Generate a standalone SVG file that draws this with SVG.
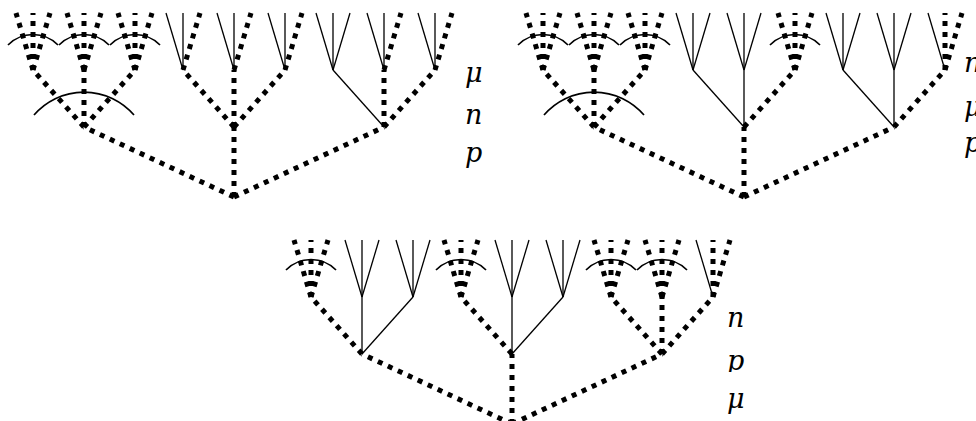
<svg xmlns="http://www.w3.org/2000/svg" width="976" height="421" viewBox="0 0 976 421">
<style>
.d{stroke:#000;stroke-width:5;stroke-dasharray:5 6;fill:none}
.t{stroke:#000;stroke-width:1.3;fill:none}
.a{stroke:#000;stroke-width:1.7;fill:none}
.lb{font-family:"DejaVu Serif","Liberation Serif",serif;font-style:italic;font-size:27px;fill:#000}
</style>
<defs>
<clipPath id="clipP"><rect x="700" y="340" width="80" height="32"/></clipPath>
</defs>
<rect width="976" height="421" fill="#fff"/>
<g id="connectors">
<g id="tree1">
<line class="d" x1="234" y1="197" x2="84" y2="127"/>
<line class="d" x1="234" y1="197" x2="234" y2="127"/>
<line class="d" x1="234" y1="197" x2="384" y2="127"/>
<line class="d" x1="84" y1="127" x2="33" y2="70"/>
<line class="d" x1="84" y1="127" x2="84" y2="70"/>
<line class="d" x1="84" y1="127" x2="135" y2="70"/>
<line class="d" x1="33" y1="70" x2="16" y2="13"/>
<line class="d" x1="33" y1="70" x2="33" y2="13"/>
<line class="d" x1="33" y1="70" x2="50" y2="13"/>
<line class="d" x1="84" y1="70" x2="67" y2="13"/>
<line class="d" x1="84" y1="70" x2="84" y2="13"/>
<line class="d" x1="84" y1="70" x2="101" y2="13"/>
<line class="d" x1="135" y1="70" x2="118" y2="13"/>
<line class="d" x1="135" y1="70" x2="135" y2="13"/>
<line class="d" x1="135" y1="70" x2="152" y2="13"/>
<line class="d" x1="234" y1="127" x2="183" y2="70"/>
<line class="d" x1="234" y1="127" x2="234" y2="70"/>
<line class="d" x1="234" y1="127" x2="285" y2="70"/>
<line class="t" x1="183" y1="70" x2="166" y2="13"/>
<line class="t" x1="183" y1="70" x2="183" y2="13"/>
<line class="d" x1="183" y1="70" x2="200" y2="13"/>
<line class="t" x1="234" y1="70" x2="217" y2="13"/>
<line class="t" x1="234" y1="70" x2="234" y2="13"/>
<line class="d" x1="234" y1="70" x2="251" y2="13"/>
<line class="t" x1="285" y1="70" x2="268" y2="13"/>
<line class="t" x1="285" y1="70" x2="285" y2="13"/>
<line class="d" x1="285" y1="70" x2="302" y2="13"/>
<line class="t" x1="384" y1="127" x2="333" y2="70"/>
<line class="d" x1="384" y1="127" x2="384" y2="70"/>
<line class="d" x1="384" y1="127" x2="435" y2="70"/>
<line class="t" x1="333" y1="70" x2="316" y2="13"/>
<line class="t" x1="333" y1="70" x2="333" y2="13"/>
<line class="t" x1="333" y1="70" x2="350" y2="13"/>
<line class="t" x1="384" y1="70" x2="367" y2="13"/>
<line class="t" x1="384" y1="70" x2="384" y2="13"/>
<line class="d" x1="384" y1="70" x2="401" y2="13"/>
<line class="t" x1="435" y1="70" x2="418" y2="13"/>
<line class="t" x1="435" y1="70" x2="435" y2="13"/>
<line class="d" x1="435" y1="70" x2="452" y2="13"/>
<path class="a" d="M34 115A66 66 0 0 1 134 115"/>
<path class="a" d="M8 45A35 35 0 0 1 58 45"/>
<path class="a" d="M59 45A35 35 0 0 1 109 45"/>
<path class="a" d="M110 45A35 35 0 0 1 160 45"/>
</g>
<g id="tree2">
<line class="d" x1="744" y1="197" x2="594" y2="127"/>
<line class="d" x1="744" y1="197" x2="744" y2="127"/>
<line class="d" x1="744" y1="197" x2="894" y2="127"/>
<line class="d" x1="594" y1="127" x2="543" y2="70"/>
<line class="d" x1="594" y1="127" x2="594" y2="70"/>
<line class="d" x1="594" y1="127" x2="645" y2="70"/>
<line class="d" x1="543" y1="70" x2="526" y2="13"/>
<line class="d" x1="543" y1="70" x2="543" y2="13"/>
<line class="d" x1="543" y1="70" x2="560" y2="13"/>
<line class="d" x1="594" y1="70" x2="577" y2="13"/>
<line class="d" x1="594" y1="70" x2="594" y2="13"/>
<line class="d" x1="594" y1="70" x2="611" y2="13"/>
<line class="d" x1="645" y1="70" x2="628" y2="13"/>
<line class="d" x1="645" y1="70" x2="645" y2="13"/>
<line class="d" x1="645" y1="70" x2="662" y2="13"/>
<line class="t" x1="744" y1="127" x2="693" y2="70"/>
<line class="t" x1="744" y1="127" x2="744" y2="70"/>
<line class="d" x1="744" y1="127" x2="795" y2="70"/>
<line class="t" x1="693" y1="70" x2="676" y2="13"/>
<line class="t" x1="693" y1="70" x2="693" y2="13"/>
<line class="t" x1="693" y1="70" x2="710" y2="13"/>
<line class="t" x1="744" y1="70" x2="727" y2="13"/>
<line class="t" x1="744" y1="70" x2="744" y2="13"/>
<line class="t" x1="744" y1="70" x2="761" y2="13"/>
<line class="d" x1="795" y1="70" x2="778" y2="13"/>
<line class="d" x1="795" y1="70" x2="795" y2="13"/>
<line class="d" x1="795" y1="70" x2="812" y2="13"/>
<line class="t" x1="894" y1="127" x2="843" y2="70"/>
<line class="t" x1="894" y1="127" x2="894" y2="70"/>
<line class="d" x1="894" y1="127" x2="945" y2="70"/>
<line class="t" x1="843" y1="70" x2="826" y2="13"/>
<line class="t" x1="843" y1="70" x2="843" y2="13"/>
<line class="t" x1="843" y1="70" x2="860" y2="13"/>
<line class="t" x1="894" y1="70" x2="877" y2="13"/>
<line class="t" x1="894" y1="70" x2="894" y2="13"/>
<line class="t" x1="894" y1="70" x2="911" y2="13"/>
<line class="t" x1="945" y1="70" x2="928" y2="13"/>
<line class="d" x1="945" y1="70" x2="945" y2="13"/>
<line class="d" x1="945" y1="70" x2="962" y2="13"/>
<path class="a" d="M544 115A66 66 0 0 1 644 115"/>
<path class="a" d="M518 45A35 35 0 0 1 568 45"/>
<path class="a" d="M569 45A35 35 0 0 1 619 45"/>
<path class="a" d="M620 45A35 35 0 0 1 670 45"/>
<path class="a" d="M770 45A35 35 0 0 1 820 45"/>
</g>
<g id="tree3">
<line class="d" x1="512" y1="424" x2="362" y2="354"/>
<line class="d" x1="512" y1="424" x2="512" y2="354"/>
<line class="d" x1="512" y1="424" x2="662" y2="354"/>
<line class="d" x1="362" y1="354" x2="311" y2="297"/>
<line class="t" x1="362" y1="354" x2="362" y2="297"/>
<line class="t" x1="362" y1="354" x2="413" y2="297"/>
<line class="d" x1="311" y1="297" x2="294" y2="240"/>
<line class="d" x1="311" y1="297" x2="311" y2="240"/>
<line class="d" x1="311" y1="297" x2="328" y2="240"/>
<line class="t" x1="362" y1="297" x2="345" y2="240"/>
<line class="t" x1="362" y1="297" x2="362" y2="240"/>
<line class="t" x1="362" y1="297" x2="379" y2="240"/>
<line class="t" x1="413" y1="297" x2="396" y2="240"/>
<line class="t" x1="413" y1="297" x2="413" y2="240"/>
<line class="t" x1="413" y1="297" x2="430" y2="240"/>
<line class="d" x1="512" y1="354" x2="461" y2="297"/>
<line class="t" x1="512" y1="354" x2="512" y2="297"/>
<line class="t" x1="512" y1="354" x2="563" y2="297"/>
<line class="d" x1="461" y1="297" x2="444" y2="240"/>
<line class="d" x1="461" y1="297" x2="461" y2="240"/>
<line class="d" x1="461" y1="297" x2="478" y2="240"/>
<line class="t" x1="512" y1="297" x2="495" y2="240"/>
<line class="t" x1="512" y1="297" x2="512" y2="240"/>
<line class="t" x1="512" y1="297" x2="529" y2="240"/>
<line class="t" x1="563" y1="297" x2="546" y2="240"/>
<line class="t" x1="563" y1="297" x2="563" y2="240"/>
<line class="t" x1="563" y1="297" x2="580" y2="240"/>
<line class="d" x1="662" y1="354" x2="611" y2="297"/>
<line class="d" x1="662" y1="354" x2="662" y2="297"/>
<line class="d" x1="662" y1="354" x2="713" y2="297"/>
<line class="d" x1="611" y1="297" x2="594" y2="240"/>
<line class="d" x1="611" y1="297" x2="611" y2="240"/>
<line class="d" x1="611" y1="297" x2="628" y2="240"/>
<line class="d" x1="662" y1="297" x2="645" y2="240"/>
<line class="d" x1="662" y1="297" x2="662" y2="240"/>
<line class="d" x1="662" y1="297" x2="679" y2="240"/>
<line class="t" x1="713" y1="297" x2="696" y2="240"/>
<line class="d" x1="713" y1="297" x2="713" y2="240"/>
<line class="d" x1="713" y1="297" x2="730" y2="240"/>
<path class="a" d="M286 270A35 35 0 0 1 336 270"/>
<path class="a" d="M436 270A35 35 0 0 1 486 270"/>
<path class="a" d="M586 270A35 35 0 0 1 636 270"/>
<path class="a" d="M637 270A35 35 0 0 1 687 270"/>
</g>
</g>
<g id="labels">
<text class="lb" x="465" y="82">μ</text>
<text class="lb" x="465" y="124">n</text>
<text class="lb" x="465" y="162">p</text>
<text class="lb" x="964" y="72">n</text>
<text class="lb" x="964" y="116">μ</text>
<text class="lb" x="964" y="152">p</text>
<text class="lb" x="727" y="327">n</text>
<text class="lb" x="727" y="370" clip-path="url(#clipP)">p</text>
<text class="lb" x="727" y="408">μ</text>
</g>
</svg>
